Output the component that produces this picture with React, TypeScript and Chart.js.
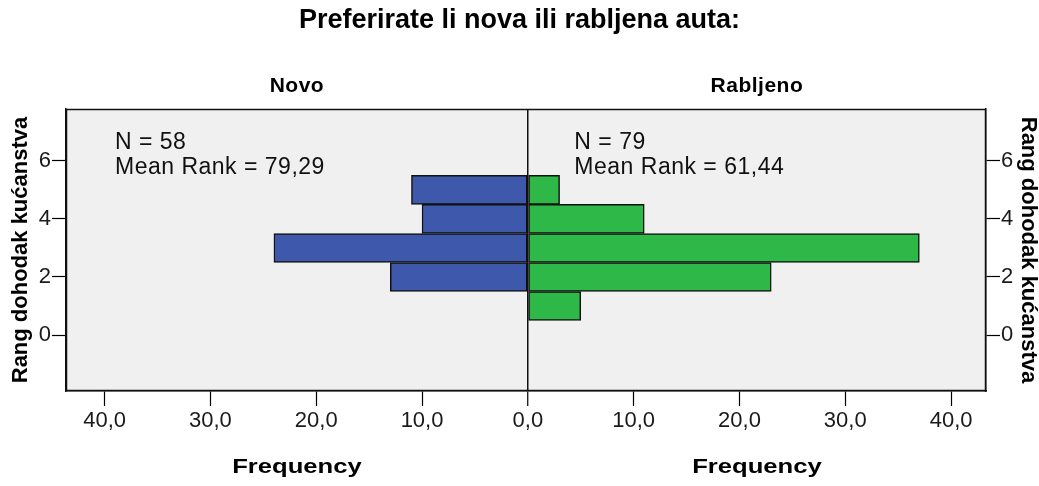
import React, { useEffect, useRef } from 'react';
import { Chart, registerables } from 'chart.js';

Chart.register(...registerables);

const TITLE = 'Preferirate li nova ili rabljena auta:';
const GROUPS = ['Novo', 'Rabljeno'];
const BINS = [1, 2, 3, 4, 5];
const NOVO = [0, 13, 24, 10, 11];
const RABLJENO = [5, 23, 37, 11, 3];
const N_COUNTS = [58, 79];
const MEAN_RANKS = ['79,29', '61,44'];
const X_TICKS = [-40, -30, -20, -10, 0, 10, 20, 30, 40];
const Y_TICKS = [0, 2, 4, 6];
const Y_TITLE = 'Rang dohodak kućanstva';
const X_TITLE = 'Frequency';

const FONT = "'Liberation Sans', Arial, sans-serif";
const BLUE = '#3e58ac';
const GREEN = '#2eb848';
const W = 1039;
const H = 486;

const pyramidPlugin = {
  id: 'pyramidDecor',
  beforeDraw(chart: any) {
    const { ctx, chartArea: a } = chart;
    ctx.save();
    ctx.fillStyle = '#ffffff';
    ctx.fillRect(0, 0, chart.width, chart.height);
    ctx.fillStyle = '#f0f0f0';
    ctx.fillRect(a.left, a.top, a.right - a.left, a.bottom - a.top);
    ctx.restore();
  },
  afterDraw(chart: any) {
    const { ctx, chartArea: a, scales } = chart;
    const zero = scales.x.getPixelForValue(0);
    const centers = [(a.left + zero) / 2, (zero + a.right) / 2];
    ctx.save();
    ctx.strokeStyle = '#111';
    ctx.lineWidth = 1.5;
    ctx.strokeRect(
      Math.round(a.left) + 0.5,
      Math.round(a.top) + 0.5,
      Math.round(a.right - a.left) - 1,
      Math.round(a.bottom - a.top) - 1
    );
    ctx.fillStyle = '#000';
    ctx.textBaseline = 'alphabetic';
    ctx.textAlign = 'center';
    ctx.font = `bold 21px ${FONT}`;
    (ctx as any).letterSpacing = '0.5px';
    GROUPS.forEach((g, i) => ctx.fillText(g, centers[i], a.top - 17));
    (ctx as any).letterSpacing = '0px';
    ctx.font = `bold 20px ${FONT}`;
    centers.forEach((c) => {
      ctx.save();
      ctx.translate(c, a.bottom + 82);
      ctx.scale(1.28, 1);
      ctx.fillText(X_TITLE, 0, 0);
      ctx.restore();
    });
    (ctx as any).letterSpacing = '0.5px';
    ctx.textAlign = 'left';
    ctx.fillStyle = '#111';
    ctx.font = `23px ${FONT}`;
    const textX = [a.left + 49, zero + 46.5];
    GROUPS.forEach((_, i) => {
      ctx.fillText(`N = ${N_COUNTS[i]}`, textX[i], a.top + 40);
      ctx.fillText(`Mean Rank = ${MEAN_RANKS[i]}`, textX[i], a.top + 65);
    });
    (ctx as any).letterSpacing = '0px';
    ctx.restore();
  },
};

const yAxis = (position: 'left' | 'right', width: number, titlePad: number) => ({
  type: 'linear' as const,
  position,
  min: -1.93,
  max: 7.79,
  offset: false,
  grace: 0,
  afterBuildTicks: (s: any) => {
    s.ticks = Y_TICKS.map((v) => ({ value: v }));
  },
  afterFit: (s: any) => {
    s.width = width;
  },
  ticks: {
    color: '#1a1a1a',
    font: { family: FONT, size: 22 },
    padding: 1,
    callback: (v: any) => String(v),
  },
  grid: {
    drawOnChartArea: false,
    offset: false,
    color: '#000',
    tickColor: '#000',
    tickLength: 14,
    tickWidth: 1.2,
  },
  border: { display: true, color: '#111', width: 1.5 },
  title: {
    display: true,
    text: Y_TITLE,
    color: '#000',
    font: { family: FONT, size: 22, weight: 'bold' as const, lineHeight: 1 },
    padding: { top: titlePad, bottom: 0 },
  },
});

export default function App() {
  const canvasRef = useRef<HTMLCanvasElement | null>(null);

  useEffect(() => {
    document.body.style.margin = '0';
    document.body.style.overflow = 'hidden';
    const canvas = canvasRef.current;
    if (!canvas) return;
    const chart = new Chart(canvas, {
      type: 'bar',
      data: {
        datasets: [
          {
            label: GROUPS[0],
            data: BINS.map((b, i) => ({ x: -NOVO[i], y: b })).filter((p) => p.x !== 0),
            backgroundColor: BLUE,
            yAxisID: 'y',
          },
          {
            label: GROUPS[1],
            data: BINS.map((b, i) => ({ x: RABLJENO[i], y: b })).filter((p) => p.x !== 0),
            backgroundColor: GREEN,
            yAxisID: 'y',
          },
        ],
      },
      options: {
        indexAxis: 'y',
        responsive: false,
        animation: false,
        layout: { padding: 0 },
        datasets: {
          bar: {
            grouped: false,
            barPercentage: 1,
            categoryPercentage: 1,
            borderColor: '#111',
            borderWidth: 1.5,
            borderSkipped: false,
          },
        },
        plugins: {
          legend: { display: false },
          tooltip: { enabled: false },
          title: {
            display: true,
            text: TITLE,
            color: '#000',
            font: { family: FONT, size: 27, weight: 'bold' },
            padding: { top: 4.7, bottom: 71.9 },
          },
        },
        scales: {
          x: {
            type: 'linear',
            min: -43.65,
            max: 43.3,
            offset: false,
            afterBuildTicks: (s: any) => {
              s.ticks = X_TICKS.map((v) => ({ value: v }));
            },
            afterFit: (s: any) => {
              s.height = 95;
            },
            ticks: {
              color: '#1a1a1a',
              font: { family: FONT, size: 22 },
              padding: 2,
              maxRotation: 0,
              autoSkip: false,
              callback: (v: any) => Math.abs(Number(v)).toFixed(1).replace('.', ','),
            },
            grid: {
              color: (c: any) => (c.tick && c.tick.value === 0 ? '#111' : 'rgba(0,0,0,0)'),
              lineWidth: (c: any) => (c.tick && c.tick.value === 0 ? 1.5 : 1),
              tickColor: '#000',
              tickLength: 15,
              tickWidth: 1.2,
              drawOnChartArea: true,
            },
            border: { display: true, color: '#111', width: 1.5 },
          },
          y: yAxis('left', 66, 10),
          y2: yAxis('right', 53, 0),
        },
      } as any,
      plugins: [pyramidPlugin],
    });
    return () => chart.destroy();
  }, []);

  return (
    <div style={{ width: W, height: H }}>
      <canvas ref={canvasRef} width={W} height={H} />
    </div>
  );
}
